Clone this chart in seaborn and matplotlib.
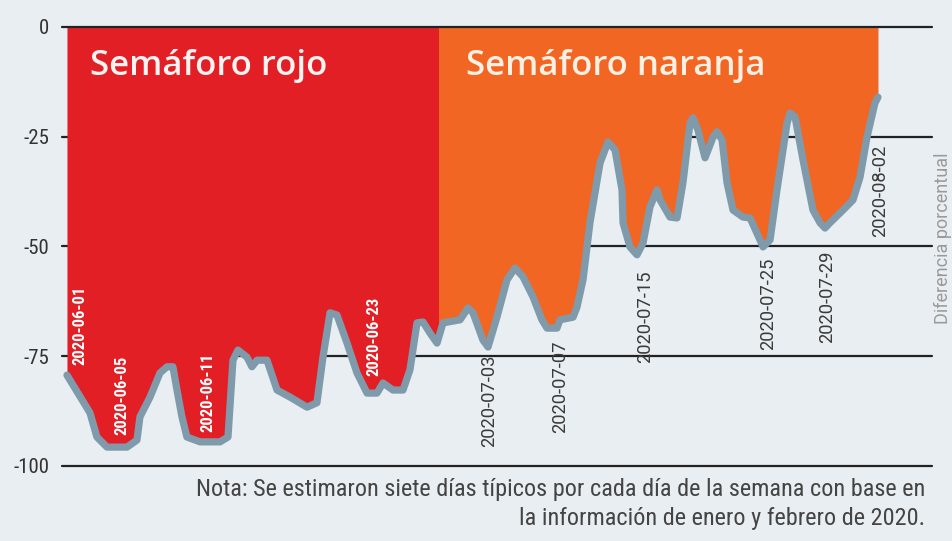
import numpy as np
import pandas as pd
import matplotlib
matplotlib.use("Agg")
import matplotlib.pyplot as plt
import matplotlib.dates as mdates
from matplotlib import font_manager
from matplotlib.patches import Rectangle
import seaborn as sns

# ---------------- data ----------------
inicio = "2020-06-01"
# days since 2020-06-01 (sub-daily resolution)
dias = [0.0, 1.76, 2.29, 3.06, 4.59, 5.35, 5.58, 6.35, 7.11, 7.65, 8.10, 8.41, 8.79, 9.17,
        10.17, 11.70, 12.31, 12.69, 13.07, 13.76, 14.14, 14.53, 15.29, 16.06, 17.05, 18.35,
        19.11, 19.57, 20.11, 20.64, 21.41, 22.17, 22.94, 23.70, 24.16, 24.92, 25.69, 26.22,
        26.76, 27.22, 27.75, 28.29, 28.75, 30.05, 30.66, 31.04, 31.80, 32.19, 32.87, 33.64,
        34.25, 34.86, 35.63, 36.31, 36.70, 37.46, 37.69, 38.69, 38.99, 39.45, 39.98, 40.75,
        41.36, 41.90, 42.43, 42.51, 43.04, 43.58, 44.04, 44.57, 45.11, 45.34, 46.10, 46.64,
        47.09, 47.63, 47.86, 48.24, 48.78, 49.39, 49.69, 50.08, 50.46, 50.92, 51.68, 52.22,
        52.98, 53.21, 53.75, 54.28, 55.05, 55.28, 55.66, 56.27, 57.03, 57.57, 57.95, 58.33,
        59.33, 60.09, 60.63, 61.16, 61.77, 62.0]
diferencia = [-79.3, -87.9, -93.4, -95.7, -95.7, -94.1, -88.8, -84.3, -78.8, -77.4, -77.4, -82.7,
              -88.8, -93.4, -94.5, -94.5, -93.4, -75.9, -73.6, -75.2, -77.4, -75.9, -75.9, -82.7,
              -84.3, -86.6, -85.6, -75.2, -65.1, -65.6, -72.0, -78.8, -83.4, -83.4, -81.1, -82.7,
              -82.7, -78.1, -67.4, -67.2, -69.7, -72.0, -67.4, -66.7, -64.0, -65.1, -71.3, -72.9,
              -66.1, -57.6, -54.9, -56.9, -61.5, -66.7, -68.6, -68.6, -66.7, -66.1, -63.8, -57.6,
              -44.6, -31.0, -26.2, -28.0, -37.1, -44.6, -50.1, -51.9, -49.2, -41.0, -37.1, -39.4,
              -43.3, -43.5, -35.5, -21.9, -20.7, -23.5, -29.8, -25.1, -23.9, -25.7, -35.5, -41.7,
              -43.3, -43.5, -48.5, -50.1, -48.5, -37.1, -21.9, -19.6, -20.5, -30.3, -41.7, -44.6,
              -45.8, -44.6, -41.7, -39.4, -34.2, -25.1, -17.3, -16.0]
cambio_semaforo = "2020-06-29 10:00"
fases = ["Semáforo rojo", "Semáforo naranja"]
etiquetas_rojo = ["2020-06-01", "2020-06-05", "2020-06-11", "2020-06-23"]
etiquetas_naranja = ["2020-07-03", "2020-07-07", "2020-07-15", "2020-07-25", "2020-07-29", "2020-08-02"]
yticks = [0, -25, -50, -75, -100]
nota = ("Nota: Se estimaron siete días típicos por cada día de la semana con base en\n"
        "la información de enero y febrero de 2020.")
ylabel = "Diferencia porcentual"

# ---------------- style ----------------
BG = "#e8eef2"
RED = "#e31f26"
ORANGE = "#f26624"
LINE = "#7f9bab"
DARK = "#222222"

sns.set_theme(style="white")
names = {f.name for f in font_manager.fontManager.ttflist}
narrow = next((n for n in ["Roboto Condensed", "Liberation Sans Narrow", "Roboto"] if n in names), "DejaVu Sans")
plt.rcParams["font.family"] = [narrow, "DejaVu Sans"]

df = pd.DataFrame({"fecha": pd.Timestamp(inicio) + pd.to_timedelta(dias, unit="D"),
                   "diferencia": diferencia})

fig = plt.figure(figsize=(9.52, 5.41), dpi=100, facecolor=BG)
ax = fig.add_axes([62 / 952, 1 - 466 / 541, (932 - 62) / 952, (466 - 27) / 541])
ax.set_facecolor(BG)

t0 = pd.Timestamp(inicio)
ax.set_xlim(t0 - pd.Timedelta(days=0.38), t0 + pd.Timedelta(days=66.13))
ax.set_ylim(-100, 0)

# horizontal reference lines
for v in yticks:
    ax.axhline(v, color=DARK, lw=1.6, zorder=3 if v == 0 else 0.5, clip_on=False)

# fills
x = mdates.date2num(df["fecha"])
xc = mdates.date2num(pd.Timestamp(cambio_semaforo))
red = ax.fill_between(df["fecha"], df["diferencia"], 0, color=RED, lw=0, zorder=1)
red.set_clip_path(Rectangle((x[0] - 1, -101), xc - x[0] + 1, 102, transform=ax.transData))
ora = ax.fill_between(df["fecha"], df["diferencia"], 0, color=ORANGE, lw=0, zorder=1)
ora.set_clip_path(Rectangle((xc, -101), x[-1] - xc + 1, 102, transform=ax.transData))

# line
sns.lineplot(data=df, x="fecha", y="diferencia", ax=ax, color=LINE, lw=5.2,
             solid_joinstyle="round", solid_capstyle="round", zorder=2)

# phase titles
tfont = ["Open Sans", "DejaVu Sans"]
ax.text(t0 + pd.Timedelta(days=1.76), -11, fases[0], color="#fff4f2", fontsize=25,
        fontweight=600, family=tfont, ha="left", va="baseline", zorder=4)
ax.text(t0 + pd.Timedelta(days=30.5), -11, fases[1], color="#fff0e4", fontsize=25,
        fontweight=600, family=tfont, ha="left", va="baseline", zorder=4)

# date annotations
off_rojo = [1.0, 0.2, 0.8, 1.5]
y_rojo = [-77.0, -92.9, -92.3, -79.5]
for lab, dx, yy in zip(etiquetas_rojo, off_rojo, y_rojo):
    ax.text(pd.Timestamp(lab) + pd.Timedelta(days=dx), yy, lab, rotation=90, color="white",
            fontsize=12, fontweight="bold", ha="center", va="bottom", zorder=4)
off_nar = [0.3, 1.7, 0.2, -0.4, 0.1, 0.2]
y_nar = [-74.7, -71.3, -55.4, -52.6, -50.8, -26.9]
for lab, dx, yy in zip(etiquetas_naranja, off_nar, y_nar):
    ax.text(pd.Timestamp(lab) + pd.Timedelta(days=dx), yy, lab, rotation=90, color="#3a3a3a",
            fontsize=13.2, family=["Roboto", "DejaVu Sans"], ha="center", va="top", zorder=4)

# axes cosmetics
sns.despine(ax=ax, left=True, bottom=True)
ax.set_xticks([])
ax.set_yticks(yticks)
ax.set_yticklabels([str(v) for v in yticks])
ax.tick_params(axis="y", length=6, width=1.6, color=DARK, labelsize=15, labelcolor="#333333", pad=3)
ax.set_xlabel("")
ax.set_ylabel("")

fig.text(943 / 952, 1 - 238 / 541, ylabel, rotation=90, color="#9a9a9a", fontsize=13,
         family=["Roboto", "DejaVu Sans"], ha="center", va="center")
fig.text(925 / 952, 1 - 504 / 541, nota, color="#444444", fontsize=17.5, ha="right", va="center",
         linespacing=1.3, multialignment="right")

fig.savefig("out.png", dpi=100, facecolor=BG)
